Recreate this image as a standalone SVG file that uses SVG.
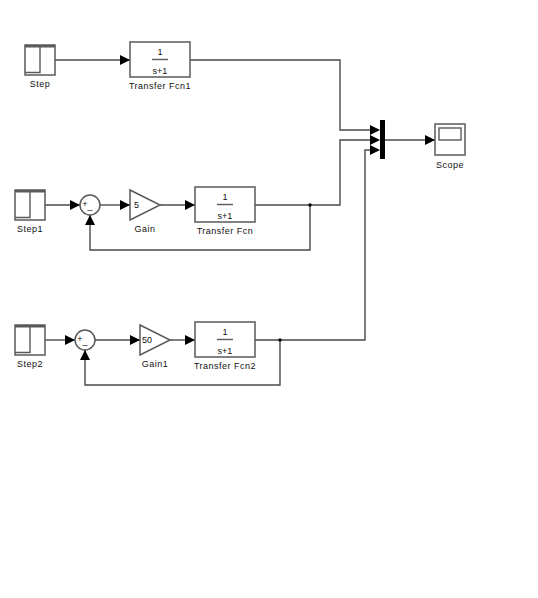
<svg xmlns="http://www.w3.org/2000/svg" width="538" height="598" viewBox="0 0 538 598">
<style>
.b{fill:#fff;stroke:#5a5a5a;stroke-width:1.500}
.i{fill:none;stroke:#5a5a5a;stroke-width:1.400}
.c{fill:none;stroke:#4a4a4a;stroke-width:1.400}
.t{font-family:"Liberation Sans",Arial,sans-serif;font-size:9px;fill:#111;text-anchor:middle;letter-spacing:.5px}
.n{letter-spacing:0}
.a{fill:#000}
</style>
<defs>
<g id="stp"><rect class="b" x="0" y="0" width="30" height="30"/><rect x="0" y="0" width="30" height="2.500" fill="#5a5a5a"/><path class="i" d="M0 27.500H15V1"/></g>
<g id="tf"><rect class="b" x="0" y="0" width="60" height="35"/><path class="i" d="M22 17.500H38"/></g>
<path id="ar" class="a" d="M-10 -5L0 0L-10 5Z"/>
</defs>
<rect width="538" height="598" fill="#fff"/>
<g id="connectors">
<path class="c" d="M55 60H130"/>
<path class="c" d="M190 60H340V130H375"/>
<path class="c" d="M45 205H80"/>
<path class="c" d="M100 205H130"/>
<path class="c" d="M160 205H195"/>
<path class="c" d="M255 205H340V140H375"/>
<path class="c" d="M310 205V250H90V215"/>
<path class="c" d="M45 340H75"/>
<path class="c" d="M95 340H140"/>
<path class="c" d="M170 340H195"/>
<path class="c" d="M255 340H365V150H375"/>
<path class="c" d="M280 340V385H85V350"/>
<path class="c" d="M385 140H435"/>
<circle class="a" cx="310" cy="205" r="1.700"/>
<circle class="a" cx="280" cy="340" r="1.700"/>
<use href="#ar" x="130" y="60"/>
<use href="#ar" x="80" y="205"/>
<use href="#ar" x="130" y="205"/>
<use href="#ar" x="195" y="205"/>
<use href="#ar" x="75" y="340"/>
<use href="#ar" x="140" y="340"/>
<use href="#ar" x="195" y="340"/>
<use href="#ar" x="380" y="130"/>
<use href="#ar" x="380" y="140"/>
<use href="#ar" x="380" y="150"/>
<use href="#ar" x="435" y="140"/>
</g>
<g id="step"><use href="#stp" x="25" y="45"/><text class="t" x="40" y="87">Step</text></g>
<g id="step1"><use href="#stp" x="15" y="190"/><text class="t" x="30" y="232">Step1</text></g>
<g id="step2"><use href="#stp" x="15" y="325"/><text class="t" x="30" y="367">Step2</text></g>
<g id="tf1"><use href="#tf" x="130" y="42"/><text class="t n" x="160" y="55">1</text><text class="t n" x="160" y="74">s+1</text><text class="t" x="160" y="89">Transfer Fcn1</text></g>
<g id="tf0"><use href="#tf" x="195" y="187"/><text class="t n" x="225" y="200">1</text><text class="t n" x="225" y="219">s+1</text><text class="t" x="225" y="234">Transfer Fcn</text></g>
<g id="tf2"><use href="#tf" x="195" y="322"/><text class="t n" x="225" y="335">1</text><text class="t n" x="225" y="354">s+1</text><text class="t" x="225" y="369">Transfer Fcn2</text></g>
<g id="sum1"><circle class="b" cx="90" cy="205" r="10"/><text class="t n" x="85" y="207">+</text><text class="t n" x="90" y="209">_</text></g>
<g id="sum2"><circle class="b" cx="85" cy="340" r="10"/><text class="t n" x="80" y="342">+</text><text class="t n" x="85" y="344">_</text></g>
<path class="a" d="M85 225L90 215L95 225Z"/>
<path class="a" d="M80 360L85 350L90 360Z"/>
<g id="gain"><path class="b" d="M130 190L160 205L130 220Z"/><text class="t n" x="136.500" y="208">5</text><text class="t" x="145" y="232">Gain</text></g>
<g id="gain1"><path class="b" d="M140 325L170 340L140 355Z"/><text class="t n" x="147" y="343">50</text><text class="t" x="155" y="367">Gain1</text></g>
<g id="mux"><rect x="380" y="120" width="5" height="39" fill="#000"/></g>
<g id="scope"><rect class="b" x="435" y="124" width="30" height="31"/><rect class="i" x="439" y="128" width="22" height="12"/><text class="t" x="450" y="168">Scope</text></g>
</svg>
